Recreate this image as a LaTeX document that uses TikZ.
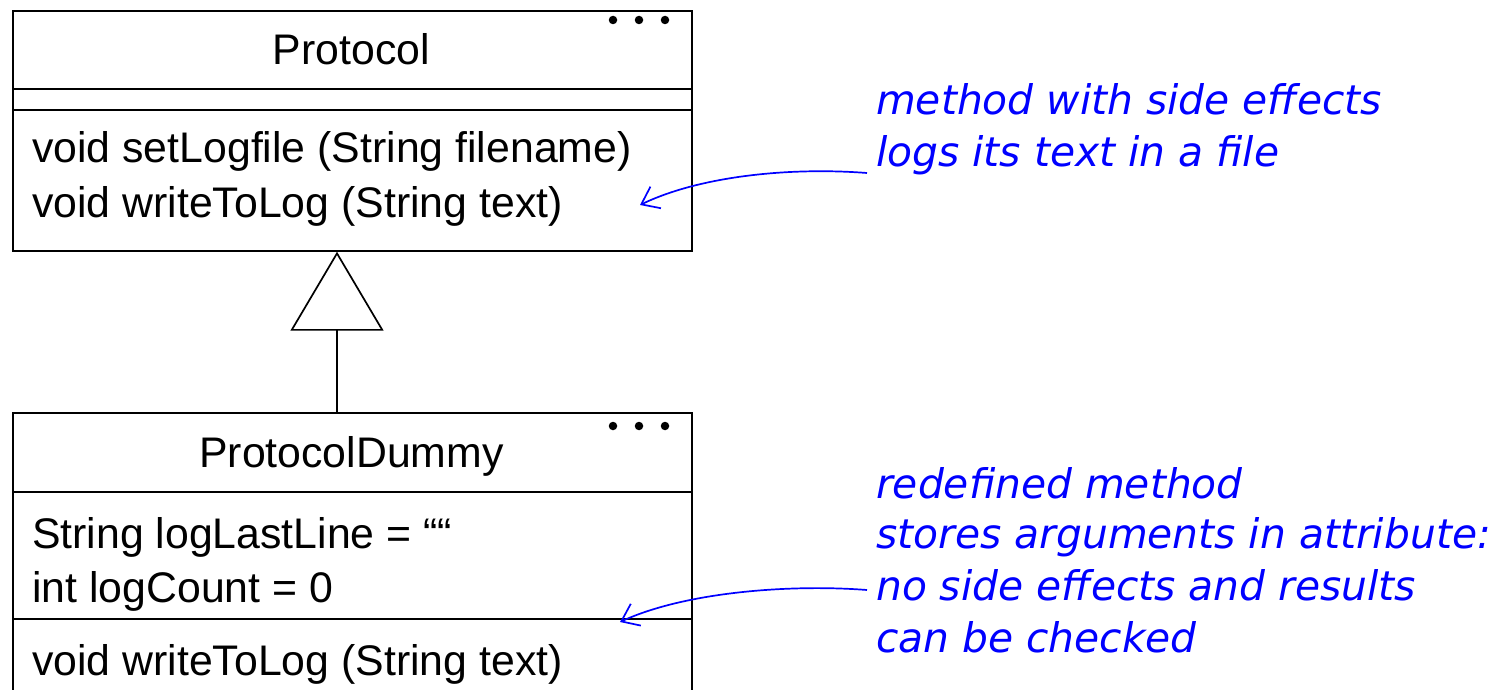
\documentclass[tikz,border=0pt]{standalone}
\usepackage{fontspec}
\setmainfont{Liberation Sans}
\newfontfamily\handfont{DejaVu Sans}[Style=Italic]
\usetikzlibrary{arrows.meta}
\definecolor{noteblue}{RGB}{0,0,255}
\begin{document}
\begin{tikzpicture}[x=1pt,y=-1pt,
  cls/.style={draw, line width=1.7pt, minimum width=679pt, inner sep=0pt, anchor=north west},
  sep/.style={line width=1.7pt},
  umltxt/.style={inner sep=0pt, font=\fontsize{42.8}{54}\selectfont},
  notetxt/.style={inner sep=0pt, anchor=base west, text=noteblue, font=\handfont\fontsize{40.8}{51}\selectfont\itshape},
  notearrow/.style={draw=noteblue, line width=1.7pt, -{Straight Barb[length=16pt,width=24pt,line width=1.7pt]}},
  dot/.style={circle, fill=black, inner sep=0pt, minimum size=8.5pt}
]
\useasboundingbox (0,0) rectangle (1494,690);
\clip (0,0) rectangle (1494,690);
\fill[white] (0,0) rectangle (1494,690);

% Protocol class
\node[cls, minimum height=240pt] (protocol) at (12,10) {};
\draw[sep] (12,89) -- (691,89);
\draw[sep] (12,110) -- (691,110);
\node[umltxt, anchor=base] (ptitle) at (351.5,65) {Protocol};
\node[umltxt, anchor=base west] (pm1) at (32,163) {void setLogfile (String filename)};
\node[umltxt, anchor=base west] (pm2) at (32,217) {void writeToLog (String text)};
\node[dot] (pd1) at (613,20) {};
\node[dot] (pd2) at (639,20) {};
\node[dot] (pd3) at (665,20) {};

% ProtocolDummy class
\node[cls, minimum height=300pt] (dummy) at (12,412) {};
\draw[sep] (12,492) -- (691,492);
\draw[sep] (12,619) -- (691,619);
\node[umltxt, anchor=base] (dtitle) at (351.5,467) {ProtocolDummy};
\node[umltxt, anchor=base west] (da1) at (32,548) {String logLastLine = ““};
\node[umltxt, anchor=base west] (da2) at (32,602) {int logCount = 0};
\node[umltxt, anchor=base west] (dm1) at (32,675) {void writeToLog (String text)};
\node[dot] (dd1) at (613,426) {};
\node[dot] (dd2) at (639,426) {};
\node[dot] (dd3) at (665,426) {};

% inheritance
\coordinate (ix) at (337,0);
\draw[line width=1.7pt, -{Triangle[open, length=79pt, width=93pt, line width=1.7pt]}]
  (dummy.north -| ix) -- (protocol.south -| ix);

% notes
\node[notetxt] (n1a) at (876,115) {method with side effects};
\node[notetxt] (n1b) at (876,167) {logs its text in a file};
\node[notetxt] (n2a) at (876,498) {redefined method};
\node[notetxt] (n2b) at (876,548) {stores arguments in attribute:};
\node[notetxt] (n2c) at (876,600) {no side effects and results};
\node[notetxt] (n2d) at (876,652) {can be checked};

\coordinate (a1s) at (867,173);
\coordinate (a1e) at (640,205);
\coordinate (a2s) at (867,590);
\coordinate (a2e) at (620,622);
\draw[notearrow] (a1s) .. controls (790,167) and (700,176) .. (a1e);
\draw[notearrow] (a2s) .. controls (790,584) and (685,592) .. (a2e);
\end{tikzpicture}
\end{document}
